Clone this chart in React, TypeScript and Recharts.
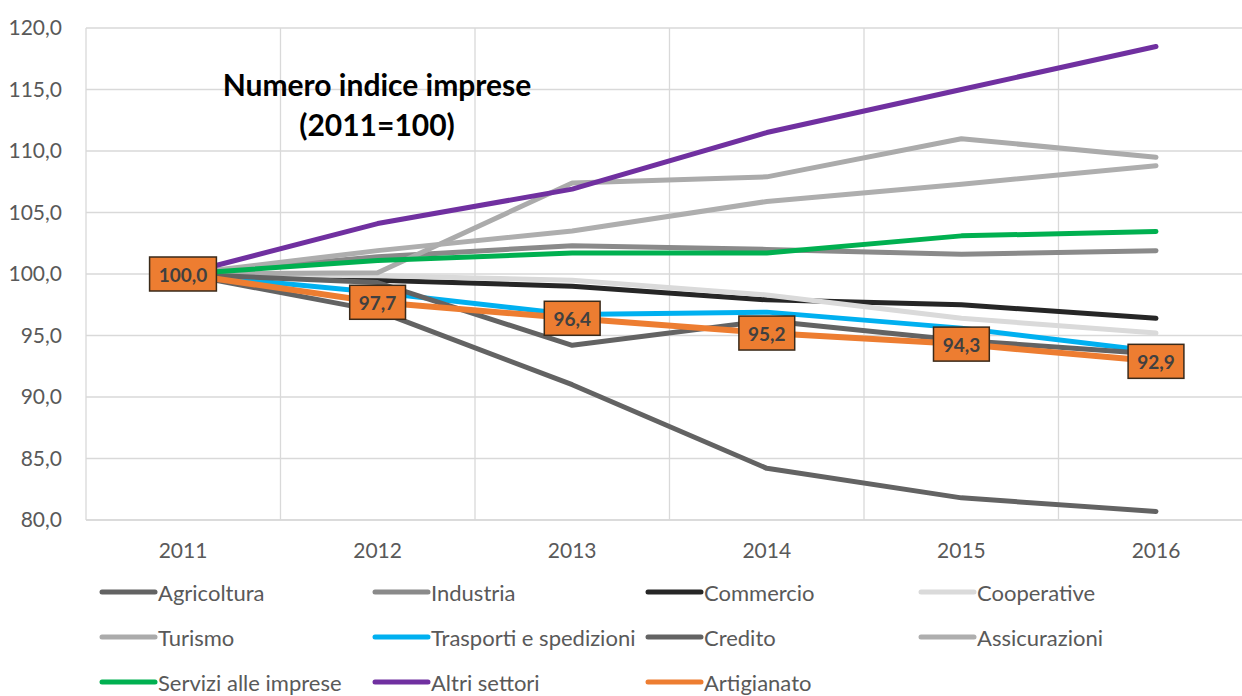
import React from 'react';
import { LineChart, Line, XAxis, YAxis, CartesianGrid, LabelList } from 'recharts';

const years = ['2011', '2012', '2013', '2014', '2015', '2016'];
const agricoltura = [100, 97.0, 91.0, 84.2, 81.8, 80.7];
const industria = [100, 101.4, 102.3, 102.0, 101.6, 101.9];
const commercio = [100, 99.5, 99.0, 97.9, 97.5, 96.4];
const cooperative = [100, 99.85, 99.5, 98.3, 96.4, 95.2];
const turismo = [100, 100.1, 107.4, 107.9, 111.0, 109.5];
const trasporti = [100, 98.5, 96.7, 96.9, 95.6, 93.7];
const credito = [100, 99.3, 94.2, 96.2, 94.6, 93.5];
const assicurazioni = [100, 101.9, 103.5, 105.9, 107.3, 108.8];
const servizi = [100, 101.1, 101.7, 101.7, 103.1, 103.45];
const altriSettori = [100, 104.1, 106.9, 111.5, 115.0, 118.5];
const artigianato = [100, 97.7, 96.4, 95.2, 94.3, 92.9];

const yTicks = [80, 85, 90, 95, 100, 105, 110, 115, 120];
const gridTicks = [0, 1, 2, 3, 4, 5, 6];

const series = [
  { key: 'agricoltura', name: 'Agricoltura', values: agricoltura, color: '#636363' },
  { key: 'industria', name: 'Industria', values: industria, color: '#8A8A8A' },
  { key: 'commercio', name: 'Commercio', values: commercio, color: '#262626' },
  { key: 'cooperative', name: 'Cooperative', values: cooperative, color: '#DADADA' },
  { key: 'turismo', name: 'Turismo', values: turismo, color: '#ABABAB' },
  { key: 'trasporti', name: 'Trasporti e spedizioni', values: trasporti, color: '#00B0F0' },
  { key: 'credito', name: 'Credito', values: credito, color: '#636363' },
  { key: 'assicurazioni', name: 'Assicurazioni', values: assicurazioni, color: '#AEAEAE' },
  { key: 'servizi', name: 'Servizi alle imprese', values: servizi, color: '#00B050' },
  { key: 'altri', name: 'Altri settori', values: altriSettori, color: '#7030A0' },
  { key: 'artigianato', name: 'Artigianato', values: artigianato, color: '#ED7D31' },
];

const data = years.map((year, i) => {
  const row: Record<string, any> = { year };
  series.forEach((s) => {
    row[s.key] = s.values[i];
  });
  return row;
});

const FONT = 'Lato, "Open Sans", sans-serif';
const fmt = (v: number) => v.toFixed(1).replace('.', ',');

const OrangeLabel = (props: any) => {
  const { x, y, value } = props;
  if (x == null || y == null) return null;
  const txt = fmt(Number(value));
  const digits = txt.replace(',', '').length;
  const w = digits * 0.58 * 19 + 0.25 * 19 + 18;
  const h = 34;
  return (
    <g>
      <rect x={x - w / 2} y={y - h / 2} width={w} height={h} fill="#ED7D31" stroke="#3a2a1a" strokeWidth={1.5} />
      <text x={x} y={y} textAnchor="middle" dominantBaseline="central" fontFamily={FONT} fontWeight={700} fontSize={19} fill="#404040">
        {txt}
      </text>
    </g>
  );
};

const legendCols = [99, 372, 645, 918];
const legendRows = [594, 639, 684];

export default function App() {
  return (
    <div style={{ position: 'absolute', left: 0, top: 0, width: 1242, height: 696, overflow: 'hidden', background: '#fff' }}>
      <LineChart width={1260} height={696} data={data} margin={{ top: 28, right: 7, bottom: 136, left: 0 }}>
        <XAxis xAxisId="grid" type="number" dataKey="gx" domain={[0, 6]} ticks={gridTicks} hide allowDataOverflow />
        <CartesianGrid xAxisId="grid" stroke="#D9D9D9" strokeWidth={1.3} />
        <XAxis
          dataKey="year"
          padding={{ left: 97, right: 97 }}
          axisLine={{ stroke: '#D9D9D9', strokeWidth: 1.3 }}
          tickLine={false}
          tickSize={0}
          tickMargin={23}
          height={40}
          tick={{ fontFamily: FONT, fontSize: 21, fill: '#595959' }}
          interval={0}
        />
        <YAxis
          domain={[80, 120]}
          ticks={yTicks}
          tickFormatter={fmt}
          axisLine={false}
          tickLine={false}
          tickSize={0}
          tickMargin={24}
          width={86}
          tick={{ fontFamily: FONT, fontSize: 21, fill: '#595959' }}
          interval={0}
        />
        {series.map((s) => (
          <Line
            key={s.key}
            type="linear"
            dataKey={s.key}
            name={s.name}
            stroke={s.color}
            strokeWidth={s.key === 'artigianato' ? 6 : 5}
            strokeLinecap="round"
            strokeLinejoin="round"
            dot={false}
            activeDot={false}
            isAnimationActive={false}
          >
            {s.key === 'artigianato' ? <LabelList dataKey={s.key} content={<OrangeLabel />} /> : null}
          </Line>
        ))}
      </LineChart>
      <div
        style={{
          position: 'absolute',
          left: 177,
          width: 400,
          top: 64,
          textAlign: 'center',
          fontFamily: FONT,
          fontWeight: 700,
          fontSize: 30,
          lineHeight: '40px',
          color: '#000',
        }}
      >
        Numero indice imprese
        <br />
        (2011=100)
      </div>
      {series.map((s, i) => {
        const col = i % 4;
        const row = Math.floor(i / 4);
        return (
          <div
            key={s.key}
            style={{
              position: 'absolute',
              left: legendCols[col],
              top: legendRows[row] - 17,
              height: 30,
              display: 'flex',
              alignItems: 'center',
              fontFamily: FONT,
              fontSize: 22,
              color: '#595959',
              whiteSpace: 'nowrap',
            }}
          >
            <svg width={59} height={10} style={{ display: 'block' }}>
              <line x1={3} y1={5} x2={56} y2={5} stroke={s.color} strokeWidth={5} strokeLinecap="round" />
            </svg>
            <span>{s.name}</span>
          </div>
        );
      })}
    </div>
  );
}
